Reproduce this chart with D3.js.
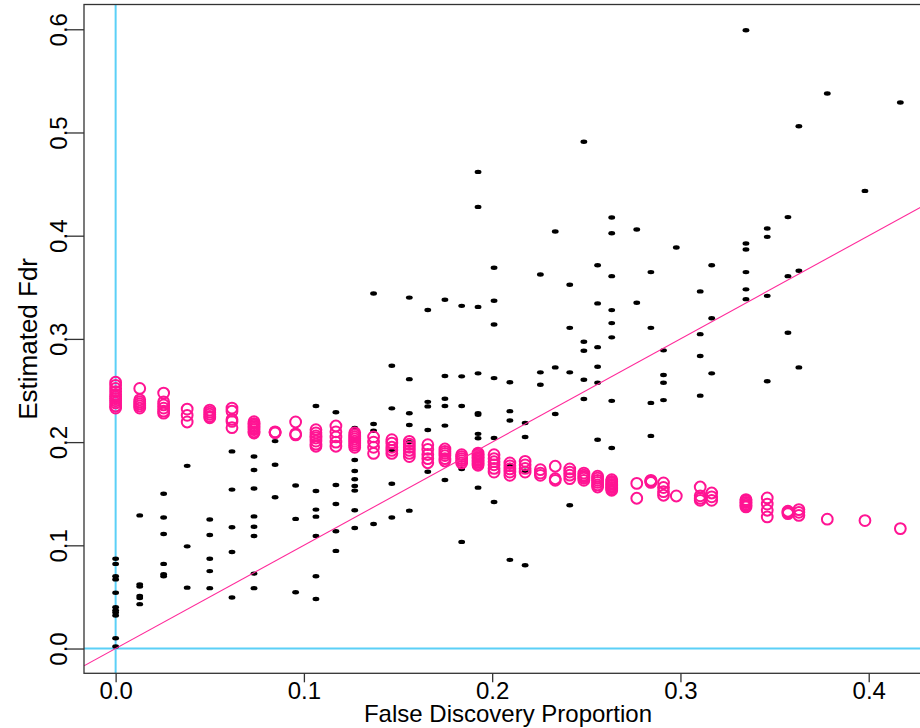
<!DOCTYPE html>
<html>
<head>
<meta charset="utf-8">
<script src="https://cdn.jsdelivr.net/npm/d3@7"></script>
<style>
  body { margin: 0; background: #fff; }
  text { font-family: "Liberation Sans", Arial, Helvetica, sans-serif; }
</style>
</head>
<body>
<svg id="chart" width="920" height="728"></svg>
<script>
// x positions (false discovery proportion) shared by both point sets
var fdpLevels = [0, 0.0128, 0.0255, 0.038, 0.050, 0.0618, 0.0735, 0.0847, 0.0956, 0.1064,
  0.117, 0.127, 0.137, 0.1467, 0.156, 0.1658, 0.1749, 0.1838, 0.1925, 0.201,
  0.2094, 0.2175, 0.2256, 0.2335, 0.2412, 0.2487, 0.256, 0.2635, 0.2768, 0.2843,
  0.291, 0.2978, 0.3105, 0.3166, 0.3348, 0.3461, 0.3571, 0.3629, 0.378, 0.398, 0.4168];

// black dots: estimated Fdr per fdp level
var estFdr = [
  [0.087, 0.082, 0.070, 0.067, 0.054, 0.040, 0.037, 0.035, 0.032, 0.010, 0.002],
  [0.129, 0.062, 0.060, 0.051, 0.049, 0.043],
  [0.150, 0.127, 0.111, 0.082, 0.072, 0.070],
  [0.177, 0.099, 0.059],
  [0.125, 0.110, 0.087, 0.075, 0.0585],
  [0.191, 0.154, 0.1175, 0.0936, 0.0494],
  [0.186, 0.173, 0.155, 0.128, 0.118, 0.109, 0.0726, 0.0585],
  [0.201, 0.178, 0.1466],
  [0.158, 0.1256, 0.0546],
  [0.235, 0.1527, 0.1346, 0.1278, 0.109, 0.070, 0.048],
  [0.229, 0.1585, 0.140, 0.1136, 0.0946],
  [0.2137, 0.1827, 0.172, 0.164, 0.1575, 0.153, 0.134, 0.1168],
  [0.344, 0.2175, 0.211, 0.1207],
  [0.274, 0.2327, 0.1924, 0.1597, 0.127],
  [0.340, 0.261, 0.228, 0.2166, 0.200, 0.1336],
  [0.328, 0.239, 0.2346, 0.2117, 0.1713],
  [0.338, 0.264, 0.242, 0.235, 0.216, 0.1633],
  [0.332, 0.2637, 0.235, 0.174, 0.1033],
  [0.4618, 0.4279, 0.331, 0.2666, 0.228, 0.2265, 0.208, 0.2037, 0.1559],
  [0.369, 0.337, 0.314, 0.262, 0.204, 0.142],
  [0.258, 0.230, 0.221, 0.1778, 0.0859],
  [0.2185, 0.205, 0.1723, 0.0807],
  [0.3624, 0.2676, 0.2556],
  [0.404, 0.2724, 0.2272],
  [0.3524, 0.3107, 0.2676, 0.1388],
  [0.491, 0.2972, 0.2885, 0.2604, 0.2417],
  [0.3714, 0.3344, 0.292, 0.273, 0.2575, 0.2023],
  [0.4176, 0.4024, 0.3608, 0.3279, 0.3153, 0.3015, 0.240, 0.1943],
  [0.406, 0.335],
  [0.3647, 0.3107, 0.238, 0.206],
  [0.2889, 0.265, 0.2575, 0.2407],
  [0.3886],
  [0.346, 0.3046, 0.2834, 0.245],
  [0.3714, 0.320, 0.2666],
  [0.599, 0.3924, 0.3866, 0.3647, 0.348, 0.3385],
  [0.407, 0.3989, 0.3417, 0.259],
  [0.418, 0.3608, 0.306],
  [0.506, 0.366, 0.2724],
  [0.5377],
  [0.4434],
  [0.529]
];

// open magenta circles per fdp level
var altFdr = [
  [0.258, 0.255, 0.252, 0.249, 0.246, 0.244, 0.242, 0.240, 0.238, 0.235, 0.233],
  [0.252, 0.241, 0.239, 0.237, 0.235, 0.233],
  [0.2475, 0.239, 0.236, 0.233, 0.230, 0.228],
  [0.232, 0.226, 0.2195],
  [0.231, 0.229, 0.227, 0.225, 0.2236],
  [0.233, 0.230, 0.222, 0.220, 0.214],
  [0.2198, 0.218, 0.2165, 0.215, 0.2135, 0.212, 0.210, 0.2088],
  [0.210, 0.2095, 0.209],
  [0.2195, 0.208, 0.207],
  [0.212, 0.209, 0.206, 0.204, 0.201, 0.198, 0.196],
  [0.2156, 0.210, 0.205, 0.200, 0.196],
  [0.209, 0.207, 0.205, 0.203, 0.201, 0.199, 0.197, 0.195],
  [0.205, 0.200, 0.195, 0.189],
  [0.2023, 0.199, 0.195, 0.192, 0.189],
  [0.2008, 0.198, 0.195, 0.192, 0.189, 0.186],
  [0.1975, 0.193, 0.188, 0.184, 0.180],
  [0.1933, 0.191, 0.189, 0.187, 0.184, 0.1817],
  [0.1878, 0.186, 0.184, 0.182, 0.1798],
  [0.1894, 0.188, 0.1865, 0.185, 0.1835, 0.182, 0.1805, 0.179, 0.1775],
  [0.1878, 0.184, 0.181, 0.178, 0.1745, 0.171],
  [0.1798, 0.177, 0.174, 0.171, 0.1678],
  [0.1814, 0.178, 0.1745, 0.171],
  [0.1733, 0.170, 0.1678],
  [0.1766, 0.1645, 0.163],
  [0.174, 0.171, 0.168, 0.1646],
  [0.170, 0.168, 0.1665, 0.165, 0.163],
  [0.1669, 0.165, 0.163, 0.161, 0.1585, 0.1565],
  [0.1636, 0.162, 0.1605, 0.159, 0.1575, 0.156, 0.1545, 0.1533],
  [0.160, 0.1456],
  [0.163, 0.1622, 0.1615, 0.161],
  [0.1604, 0.156, 0.152, 0.1485],
  [0.1478],
  [0.1565, 0.148, 0.1455, 0.1436],
  [0.1507, 0.147, 0.1436],
  [0.1443, 0.143, 0.1415, 0.140, 0.1385, 0.1372],
  [0.1459, 0.140, 0.134, 0.1275],
  [0.133, 0.132, 0.1307],
  [0.1346, 0.132, 0.129],
  [0.1253],
  [0.124],
  [0.1162]
];

var xTicks = [0, 0.1, 0.2, 0.3, 0.4];
var yTicks = [0, 0.1, 0.2, 0.3, 0.4, 0.5, 0.6];

(function() {
  var svg = d3.select("#chart");
  var left = 84, right = 938, top = 4.5, bottom = 673.3;

  var x = d3.scaleLinear().domain([-0.0168, 0.4368]).range([left, right]);
  var y = d3.scaleLinear().domain([-0.024, 0.624]).range([bottom, top]);

  var toPoints = function(sets) {
    return fdpLevels.flatMap(function(f, i) {
      return sets[i].map(function(v) { return {x: f, y: v}; });
    });
  };

  svg.append("clipPath").attr("id", "plot-clip")
    .append("rect")
    .attr("x", left).attr("y", top)
    .attr("width", right - left).attr("height", bottom - top);

  var plot = svg.append("g").attr("clip-path", "url(#plot-clip)");

  // reference lines at zero
  plot.append("line")
    .attr("x1", x(0)).attr("x2", x(0)).attr("y1", top).attr("y2", bottom)
    .style("stroke", "#5bd0f7").style("stroke-width", 2);
  plot.append("line")
    .attr("x1", left).attr("x2", right).attr("y1", y(0)).attr("y2", y(0))
    .style("stroke", "#5bd0f7").style("stroke-width", 2);

  // black estimates
  plot.selectAll("ellipse.est")
    .data(toPoints(estFdr))
    .enter().append("ellipse")
    .attr("class", "est")
    .attr("cx", function(d) { return x(d.x); })
    .attr("cy", function(d) { return y(d.y); })
    .attr("rx", 3.4).attr("ry", 2.2)
    .style("fill", "#000");

  // magenta open circles
  plot.selectAll("circle.alt")
    .data(toPoints(altFdr))
    .enter().append("circle")
    .attr("class", "alt")
    .attr("cx", function(d) { return x(d.x); })
    .attr("cy", function(d) { return y(d.y); })
    .attr("r", 5.4)
    .style("fill", "none")
    .style("stroke", "#ff1493")
    .style("stroke-width", 2);

  // identity line
  plot.append("line")
    .attr("x1", x(-0.0168)).attr("y1", y(-0.0168))
    .attr("x2", x(0.4368)).attr("y2", y(0.4368))
    .style("stroke", "#ff2a9a").style("stroke-width", 1.1);

  // box
  svg.append("rect")
    .attr("x", left).attr("y", top)
    .attr("width", right - left).attr("height", bottom - top)
    .style("fill", "none").style("stroke", "#333").style("stroke-width", 1.3);

  var fmt = d3.format(".1f");

  var xAxis = svg.append("g")
    .attr("transform", "translate(0," + bottom + ")")
    .call(d3.axisBottom(x).tickValues(xTicks).tickFormat(fmt)
      .tickSize(9).tickSizeOuter(0).tickPadding(0));
  xAxis.select(".domain").remove();
  xAxis.selectAll("line").style("stroke", "#333").style("stroke-width", 1.3);
  xAxis.selectAll("text").style("font-size", "24px").style("fill", "#000")
    .attr("dy", "0.7em");

  var yAxis = svg.append("g")
    .attr("transform", "translate(" + left + ",0)")
    .call(d3.axisLeft(y).tickValues(yTicks).tickFormat(fmt)
      .tickSize(17).tickSizeOuter(0));
  yAxis.select(".domain").remove();
  yAxis.selectAll("line").style("stroke", "#333").style("stroke-width", 1.3);
  yAxis.selectAll("text")
    .attr("x", null).attr("dy", null)
    .attr("text-anchor", "middle")
    .attr("transform", "translate(-17,0) rotate(-90)")
    .style("font-size", "24px").style("fill", "#000");

  svg.append("text")
    .attr("x", 508).attr("y", 722)
    .attr("text-anchor", "middle")
    .style("font-size", "24px")
    .text("False Discovery Proportion");

  svg.append("text")
    .attr("transform", "translate(37," + (top + bottom) / 2 + ") rotate(-90)")
    .attr("text-anchor", "middle")
    .style("font-size", "26px")
    .text("Estimated Fdr");
})();
</script>
</body>
</html>
